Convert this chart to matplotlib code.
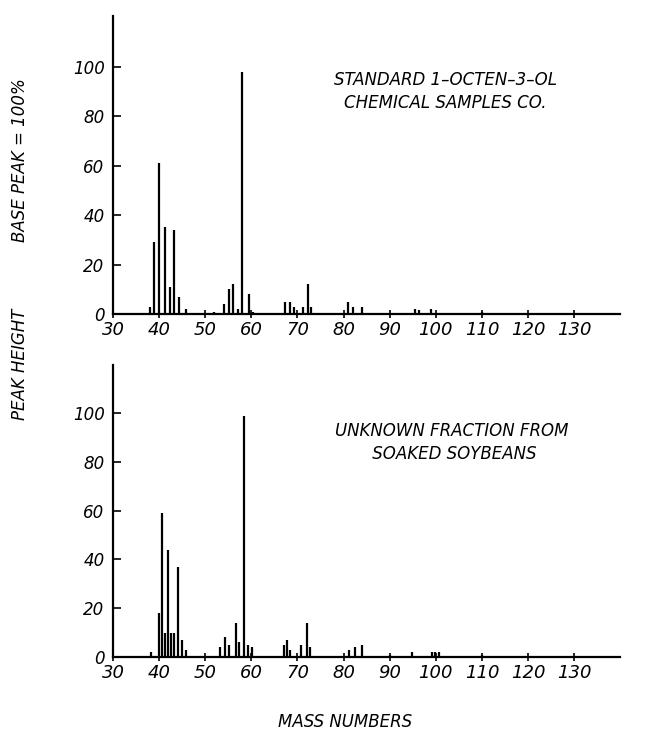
import numpy as np
import matplotlib.pyplot as plt

# ── Data ─────────────────────────────────────────────────────────────────────
std_mass = [38.1, 39.0, 39.9, 41.3, 42.3, 43.3, 44.4, 45.8,
            52.0, 54.1, 55.2, 56.1, 57.1, 57.9, 59.5, 60.4,
            67.3, 68.3, 69.2, 71.3, 72.2, 73.0,
            81.0, 82.0, 84.0, 95.5, 96.3, 99.0, 110.0]
std_height = [3, 29, 61, 35, 11, 34, 7, 2,
              1, 4, 10, 12, 2, 98, 8, 1,
              5, 5, 3, 3, 12, 3,
              5, 3, 3, 2, 1.5, 2, 1]

unk_mass = [38.3, 39.9, 40.6, 41.2, 42.0, 42.6, 43.2, 44.2, 45.0, 45.8,
            53.2, 54.3, 55.2, 56.6, 57.4, 58.5, 59.3, 60.2,
            67.0, 67.7, 68.4, 70.7, 72.0, 72.7,
            81.2, 82.5, 84.0, 90.0, 94.9, 99.2, 99.9, 100.8, 110.0]
unk_height = [2, 18, 59, 10, 44, 10, 10, 37, 7, 3,
              4, 8, 5, 14, 6, 99, 5, 4,
              5, 7, 3, 5, 14, 4,
              3, 4, 5, 1, 2, 2, 2, 2, 1]

x_ticks = [30, 40, 50, 60, 70, 80, 90, 100, 110, 120, 130]
y_ticks = [0, 20, 40, 60, 80, 100]

top_label = "STANDARD 1\u2013OCTEN\u20133\u2013OL\nCHEMICAL SAMPLES CO."
bot_label = "UNKNOWN FRACTION FROM\n SOAKED SOYBEANS"

# ── Figure ───────────────────────────────────────────────────────────────────
plt.rcParams["font.family"] = ["DejaVu Sans"]
plt.rcParams["font.style"] = "italic"

fig = plt.figure(figsize=(6.52, 7.46), dpi=100)
ax_top = fig.add_axes([0.1733, 0.579, 0.778, 0.400])
ax_bot = fig.add_axes([0.1733, 0.1193, 0.778, 0.3914])


def draw_spectrum(ax, mass, height, label, label_x, label_y, ymax):
    ax.vlines(mass, 0, height, color="black", linewidth=1.6)
    ax.set_xlim(30, 140)
    ax.set_ylim(0, ymax)
    ax.set_xticks(x_ticks)
    ax.set_yticks(y_ticks)
    ax.tick_params(axis="x", direction="inout", length=6, width=1.2,
                   labelsize=13, pad=2)
    ax.tick_params(axis="y", direction="in", length=6, width=1.2,
                   labelsize=12, pad=6)
    for side in ("top", "right"):
        ax.spines[side].set_visible(False)
    for side in ("left", "bottom"):
        ax.spines[side].set_linewidth(1.6)
    ax.text(label_x, label_y, label, transform=ax.transAxes, ha="center",
            va="top", fontsize=12, linespacing=1.35)


draw_spectrum(ax_top, std_mass, std_height, top_label, 0.655, 0.815, 120.6)
draw_spectrum(ax_bot, unk_mass, unk_height, bot_label, 0.667, 0.805, 119.7)

fig.text(0.031, 0.786, "BASE PEAK = 100%", rotation=90, ha="center",
         va="center", fontsize=12)
fig.text(0.031, 0.511, "PEAK HEIGHT", rotation=90, ha="center",
         va="center", fontsize=12)
fig.text(0.53, 0.032, "MASS NUMBERS", ha="center", va="center", fontsize=12)

fig.savefig("out.png", dpi=100)
